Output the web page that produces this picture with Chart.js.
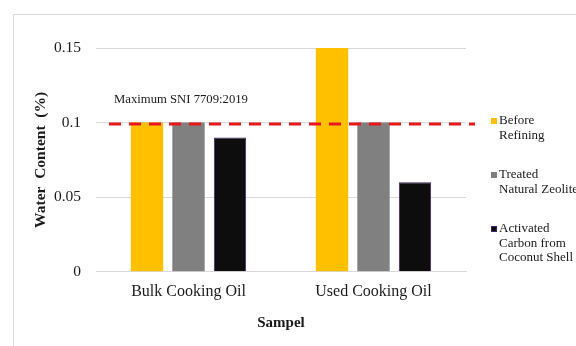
<!DOCTYPE html>
<html>
<head>
<meta charset="utf-8">
<script src="https://cdn.jsdelivr.net/npm/chart.js@4"></script>
<style>
  html, body { margin: 0; padding: 0; background: #fff; }
  #wrap { position: relative; width: 576px; height: 346px; }
</style>
</head>
<body>
<div id="wrap"><canvas id="grafico"></canvas></div>
<script>
const categorias = ['Bulk Cooking Oil', 'Used Cooking Oil'];
const series = [['Before', 'Refining'], ['Treated', 'Natural Zeolite'], ['Activated', 'Carbon from', 'Coconut Shell']];
const antesRefino = [0.1, 0.15];
const zeolita = [0.1, 0.1];
const carvao = [0.09, 0.06];
const cores = ['#FFC000', '#808080', '#0D0D0D'];
const limiteSNI = 0.099;
const textoLimite = 'Maximum SNI 7709:2019';
const ticksY = [0, 0.05, 0.1, 0.15];

const serif = "'Liberation Serif', 'Times New Roman', serif";

// moldura, linha tracejada do limite e legenda
const extras = {
    id: 'extras',
    beforeDraw(chart) {
        const c = chart.ctx;
        c.save();
        c.strokeStyle = '#d9d9d9';
        c.lineWidth = 1;
        c.beginPath();
        c.moveTo(13.5, chart.height);
        c.lineTo(13.5, 14.5);
        c.lineTo(chart.width, 14.5);
        c.stroke();
        c.restore();
    },
    afterDatasetsDraw(chart) {
        const c = chart.ctx;
        const area = chart.chartArea;
        const y = chart.scales.y.getPixelForValue(limiteSNI);
        c.save();
        c.strokeStyle = '#E8161B';
        c.lineWidth = 3;
        c.setLineDash([12, 8]);
        c.beginPath();
        c.moveTo(area.left + 13, y);
        c.lineTo(area.right + 9, y);
        c.stroke();
        c.setLineDash([]);
        c.fillStyle = '#1a1a1a';
        c.font = '12.7px ' + serif;
        c.textBaseline = 'middle';
        c.fillText(textoLimite, area.left + 18, y - 24);

        // legenda
        const lx = area.right + 25;
        let ly = area.top + 73;
        c.font = '13px ' + serif;
        chart.data.datasets.forEach((ds, i) => {
            c.fillStyle = ds.backgroundColor;
            c.fillRect(lx, ly - 3, 6, 6);
            if (ds.borderWidth) {
                c.strokeStyle = ds.borderColor;
                c.lineWidth = 1;
                c.strokeRect(lx + 0.5, ly - 2.5, 5, 5);
            }
            c.fillStyle = '#1a1a1a';
            series[i].forEach((linha, j) => {
                c.fillText(linha, lx + 8, ly + j * 14.5);
            });
            ly += 54;
        });
        c.restore();
    }
};

new Chart(document.getElementById('grafico'), {
    type: 'bar',
    data: {
        labels: categorias,
        datasets: [
            { label: series[0].join(' '), data: antesRefino, backgroundColor: cores[0], borderWidth: 0 },
            { label: series[1].join(' '), data: zeolita, backgroundColor: cores[1], borderWidth: 0 },
            { label: series[2].join(' '), data: carvao, backgroundColor: cores[2], borderColor: '#3B2166', borderWidth: 1 }
        ]
    },
    options: {
        responsive: true,
        maintainAspectRatio: false,
        animation: false,
        categoryPercentage: 0.673,
        barPercentage: 0.78,
        layout: { padding: { left: 27.7, right: 110, top: 48, bottom: 14 } },
        plugins: {
            legend: { display: false },
            tooltip: { enabled: false }
        },
        scales: {
            x: {
                grid: { display: false, drawTicks: false, tickLength: 0 },
                border: { display: true, color: '#d9d9d9' },
                ticks: { color: '#1a1a1a', padding: 10, font: { family: serif, size: 16 } },
                title: {
                    display: true, text: 'Sampel', color: '#1a1a1a',
                    padding: { top: 3, bottom: 0 },
                    font: { family: serif, size: 15, weight: 'bold' }
                }
            },
            y: {
                min: 0,
                max: 0.15,
                afterBuildTicks(axis) { axis.ticks = ticksY.map(v => ({ value: v })); },
                afterFit(axis) { axis.width = 96 - 27.7; },
                grid: { color: '#d9d9d9', drawTicks: false },
                border: { display: false },
                ticks: {
                    color: '#1a1a1a', padding: 15,
                    font: { family: serif, size: 15.5 },
                    callback: v => String(v)
                },
                title: {
                    display: true, text: 'Water  Content  (%)', color: '#1a1a1a',
                    padding: { top: 4, bottom: 4 },
                    font: { family: serif, size: 15.5, weight: 'bold' }
                }
            }
        }
    },
    plugins: [extras]
});
</script>
</body>
</html>
